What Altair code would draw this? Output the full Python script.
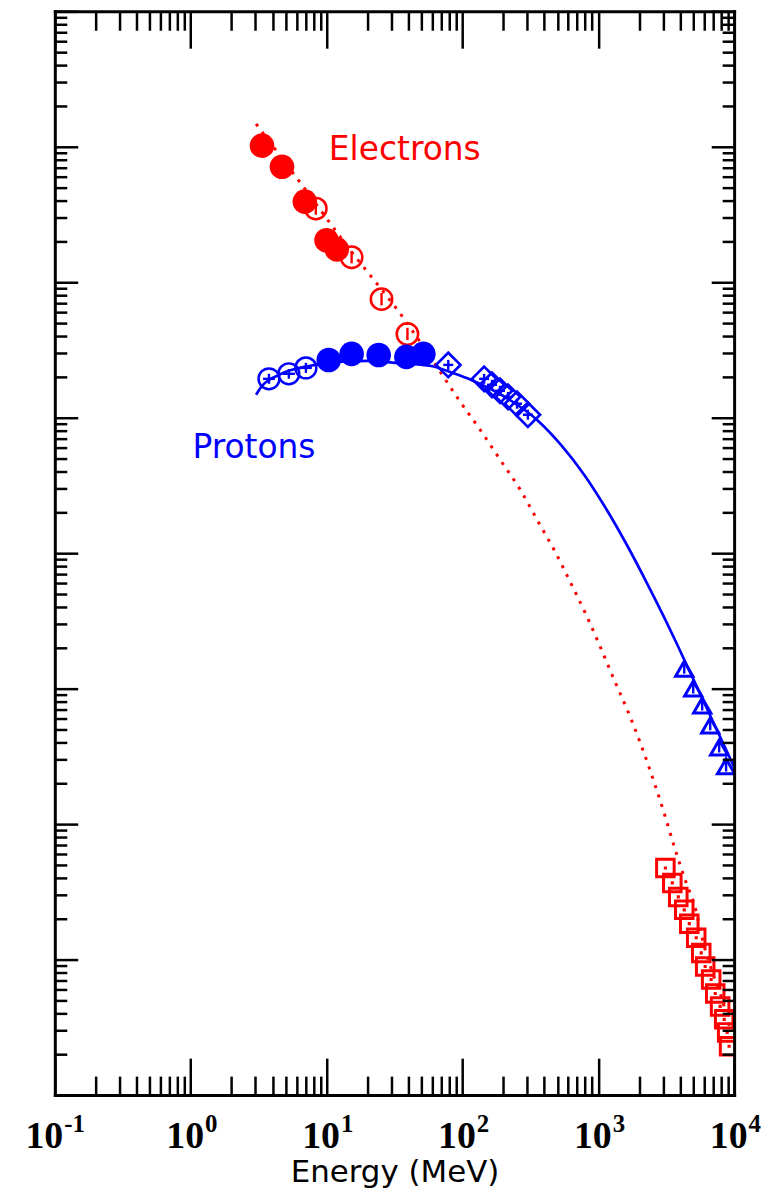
import altair as alt
import pandas as pd

RED = "#ff0000"
BLUE = "#0000ff"

# ---------------- data ----------------
# Electrons: filled circles
e_fill_E = [3.35, 4.70, 6.92, 10.0, 11.9]
e_fill_F = [1.02e7, 7.13e6, 3.94e6, 2.04e6, 1.75e6]

# Electrons: open circles with error bars
e_open_E = [8.34, 15.3, 25.4, 39.4]
e_open_F = [3.50e6, 1.53e6, 7.50e5, 4.15e5]
e_open_lo = [3.15e6, 1.38e6, 6.75e5, 3.74e5]
e_open_hi = [3.89e6, 1.70e6, 8.33e5, 4.61e5]

# Electrons: open squares (high energy)
e_sq_E = [3119, 3508, 3882, 4295, 4677, 5260, 5728, 6124, 6776, 7261, 7889, 8453, 8892, 9183]
e_sq_F = [47.4, 36.8, 29.0, 23.3, 18.4, 14.5, 11.2, 8.89, 7.13, 5.62, 4.51, 3.62, 2.90, 2.29]

# Electrons: model curve (dotted)
e_model_E = [3.03, 6.25, 14.06, 38.7, 66.5, 96.4, 134.9, 189.2, 265.5, 359.7, 478.6,
             628.1, 809.1, 1042, 1318, 1644, 2046, 2594, 3119, 3690, 4446, 5093,
             6026, 7015, 8035, 9354]
e_model_F = [1.476e7, 5.62e6, 1.87e6, 5.08e5, 2.29e5, 1.31e5, 8.17e4, 4.91e4, 2.96e4,
             1.72e4, 1.035e4, 6.01e3, 3.56e3, 2.0e3, 1.146e3, 689, 394, 200, 112.5,
             64.4, 36.8, 25.4, 12.5, 7.76, 5.35, 3.05]

# Protons: open circles with error crosses
p_open_E = [3.77, 5.28, 7.05]
p_open_F = [1.936e5, 2.109e5, 2.333e5]
p_open_Elo = [3.41, 4.77, 6.37]
p_open_Ehi = [4.17, 5.85, 7.80]
p_open_lo = [1.78e5, 1.94e5, 2.14e5]
p_open_hi = [2.11e5, 2.29e5, 2.54e5]

# Protons: filled circles
p_fill_E = [10.38, 15.3, 24.2, 38.7, 51.6]
p_fill_F = [2.667e5, 2.958e5, 2.904e5, 2.812e5, 2.958e5]

# Protons: open diamonds with error crosses
p_dia_E = [78.7, 144.5, 165.2, 189.2, 216.8, 252.4, 303.4]
p_dia_F = [2.455e5, 1.936e5, 1.750e5, 1.581e5, 1.426e5, 1.268e5, 1.052e5]
p_dia_Elo = [72.3, 132.8, 151.8, 173.9, 199.3, 232.0, 278.9]
p_dia_Ehi = [85.6, 157.2, 179.7, 205.9, 235.9, 274.6, 330.1]
p_dia_lo = [2.256e5, 1.779e5, 1.608e5, 1.453e5, 1.311e5, 1.165e5, 0.967e5]
p_dia_hi = [2.671e5, 2.106e5, 1.904e5, 1.720e5, 1.551e5, 1.380e5, 1.145e5]

# Protons: open triangles with error bars
p_tri_E = [4295, 5000, 5821, 6668, 7762, 8730]
p_tri_F = [1403, 1000, 750, 535, 368, 267]
p_tri_lo = [1290, 919, 689, 492, 338, 245]
p_tri_hi = [1526, 1088, 816, 582, 400, 290]

# Protons: model curve (solid)
p_model_E = [3.03, 3.35, 3.77, 4.46, 5.28, 7.41, 12.27, 20.4, 33.8, 59.0, 88.5, 116.1,
             216.8, 359.7, 529.8, 794.3, 1172, 1644, 2301, 3069, 3819, 4519, 5358,
             7499, 10000]
p_model_F = [1.476e5, 1.719e5, 1.901e5, 2.070e5, 2.218e5, 2.410e5, 2.582e5, 2.624e5,
             2.535e5, 2.410e5, 2.109e5, 1.901e5, 1.380e5, 9.51e4, 6.33e4, 3.75e4, 2.04e4,
             1.125e4, 5.92e3, 3.33e3, 2.108e3, 1.463e3, 1.016e3, 491, 264]

# Annotations
lab_text = ["Electrons", "Protons"]
lab_E = [10.4, 1.03]
lab_F = [8.0e6, 5.0e4]
lab_color = [RED, BLUE]

# Axis ticks
x_major = [0.1, 1.0, 10.0, 100.0, 1000.0, 10000.0]
x_major_base = ["10", "10", "10", "10", "10", "10"]
x_major_exp = ["-1", "0", "1", "2", "3", "4"]
y_major = [1.0, 1e1, 1e2, 1e3, 1e4, 1e5, 1e6, 1e7, 1e8]
x_ticks = x_major + [k * d for d in x_major[:-1] for k in range(2, 10)]
y_ticks = y_major + [k * d for d in y_major[:-1] for k in range(2, 10)]

# ---------------- chart ----------------
xs = alt.Scale(type="log", domain=[0.1, 10000], nice=False)
ys = alt.Scale(type="log", domain=[1, 1e8], nice=False)

is_major = "abs(log(datum.value)/LN10 - round(log(datum.value)/LN10)) < 0.001"


def lookup_expr(texts):
    e = "''"
    for v, t in reversed(list(zip(x_major, texts))):
        e = f"datum.value == {v} ? '{t}' : ({e})"
    return e


common = dict(grid=False, domain=True, domainColor="black", domainWidth=3,
              domainCap="square", ticks=True, tickColor="black", tickWidth=2.5,
              zindex=1)
label_common = dict(labelFont="Liberation Serif", labelFontWeight="bold", labelColor="black",
                    labelFlush=False, labelOverlap=False, labelBound=False,
                    labelBaseline="alphabetic")

ax_bottom = alt.Axis(orient="bottom", values=x_ticks,
                     tickSize={"expr": f"({is_major}) ? -37 : -19"},
                     labelExpr=lookup_expr(x_major_base), labelPadding=90,
                     labelAlign="right", labelOffset={"expr": "datum.value == 0.1 ? 8 : 13"},
                     labelFontSize=38,
                     title="Energy (MeV)", titleFont="DejaVu Sans", titleFontSize=31,
                     titleFontWeight="normal", titleColor="black", titleY=87,
                     titleBaseline="alphabetic", **label_common, **common)
ax_bottom_exp = alt.Axis(orient="bottom", values=x_major, ticks=False, tickSize=0,
                         domain=False, grid=False, title=None,
                         labelExpr=lookup_expr(x_major_exp), labelPadding=37,
                         labelAlign="left", labelOffset={"expr": "datum.value == 0.1 ? 9 : 14"},
                         labelFontSize=25, **label_common)
ax_top = alt.Axis(orient="top", values=x_ticks,
                  tickSize={"expr": f"({is_major}) ? -37 : -19"},
                  labels=False, title=None, **common)
ax_left = alt.Axis(orient="left", values=y_ticks,
                   tickSize={"expr": f"({is_major}) ? -23 : -12"},
                   labels=False, title=None, **common)
ax_right = alt.Axis(orient="right", values=y_ticks,
                    tickSize={"expr": f"({is_major}) ? -23 : -12"},
                    labels=False, title=None, **common)


def X(field, axis=None):
    return alt.X(f"{field}:Q", scale=xs, axis=axis)


def Y(field, axis=None):
    return alt.Y(f"{field}:Q", scale=ys, axis=axis)


df_pm = pd.DataFrame({"E": p_model_E, "F": p_model_F})
df_em = pd.DataFrame({"E": e_model_E, "F": e_model_F})

p_line = alt.Chart(df_pm).mark_line(color=BLUE, strokeWidth=2.7, interpolate="monotone",
                                    clip=True).encode(x=X("E", ax_bottom), y=Y("F", ax_left))
e_line = alt.Chart(df_em).mark_line(color=RED, strokeWidth=3, strokeDash=[3, 7],
                                    interpolate="monotone", clip=True).encode(
    x=X("E", ax_top), y=Y("F", ax_right))

df_eo = pd.DataFrame({"E": e_open_E, "F": e_open_F, "lo": e_open_lo, "hi": e_open_hi})
df_ef = pd.DataFrame({"E": e_fill_E, "F": e_fill_F})
df_sq = pd.DataFrame({"E": e_sq_E, "F": e_sq_F})
df_po = pd.DataFrame({"E": p_open_E, "F": p_open_F, "Elo": p_open_Elo, "Ehi": p_open_Ehi,
                      "lo": p_open_lo, "hi": p_open_hi})
df_pf = pd.DataFrame({"E": p_fill_E, "F": p_fill_F})
df_pd = pd.DataFrame({"E": p_dia_E, "F": p_dia_F, "Elo": p_dia_Elo, "Ehi": p_dia_Ehi,
                      "lo": p_dia_lo, "hi": p_dia_hi})
df_pt = pd.DataFrame({"E": p_tri_E, "F": p_tri_F, "lo": p_tri_lo, "hi": p_tri_hi})
df_lab = pd.DataFrame({"t": lab_text, "E": lab_E, "F": lab_F, "c": lab_color})


def vbar(df, color):
    return alt.Chart(df).mark_rule(color=color, strokeWidth=2.4, clip=True).encode(
        x=X("E"), y=Y("lo"), y2=alt.Y2("hi:Q"))


def hbar(df, color):
    return alt.Chart(df).mark_rule(color=color, strokeWidth=2.4, clip=True).encode(
        x=X("Elo"), x2=alt.X2("Ehi:Q"), y=Y("F"))


def pts(df, color, shape, size, filled, sw=2.5, xaxis=None):
    return alt.Chart(df).mark_point(shape=shape, size=size, filled=filled, opacity=1,
                                    color=color, strokeWidth=sw, clip=True).encode(
        x=X("E", xaxis), y=Y("F"))


labels = alt.Chart(df_lab).mark_text(font="DejaVu Sans", fontSize=33, align="left",
                                     baseline="alphabetic").encode(
    x=X("E"), y=Y("F"), text="t:N", color=alt.Color("c:N", scale=None))

chart = alt.layer(
    p_line, e_line,
    vbar(df_eo, RED), pts(df_eo, RED, "circle", 460, False),
    pts(df_ef, RED, "circle", 610, True, 0, xaxis=ax_bottom_exp),
    pts(df_sq, RED, "square", 310, False, 3),
    pts(df_sq, RED, "square", 10, True, 0),
    vbar(df_po, BLUE), hbar(df_po, BLUE), pts(df_po, BLUE, "circle", 440, False),
    pts(df_pf, BLUE, "circle", 610, True, 0),
    vbar(df_pd, BLUE), hbar(df_pd, BLUE), pts(df_pd, BLUE, "diamond", 600, False, 2.7),
    vbar(df_pt, BLUE), pts(df_pt, BLUE, "triangle-up", 300, False, 3),
    labels,
).resolve_axis(x="independent", y="independent").properties(
    width=682, height=1088,
    padding={"left": 47, "top": 1, "right": 30, "bottom": 94},
    autosize=alt.AutoSizeParams(type="none"),
    background="white",
).configure_view(stroke=None)

chart.save("out.html", embed_options={"renderer": "svg", "actions": False})
